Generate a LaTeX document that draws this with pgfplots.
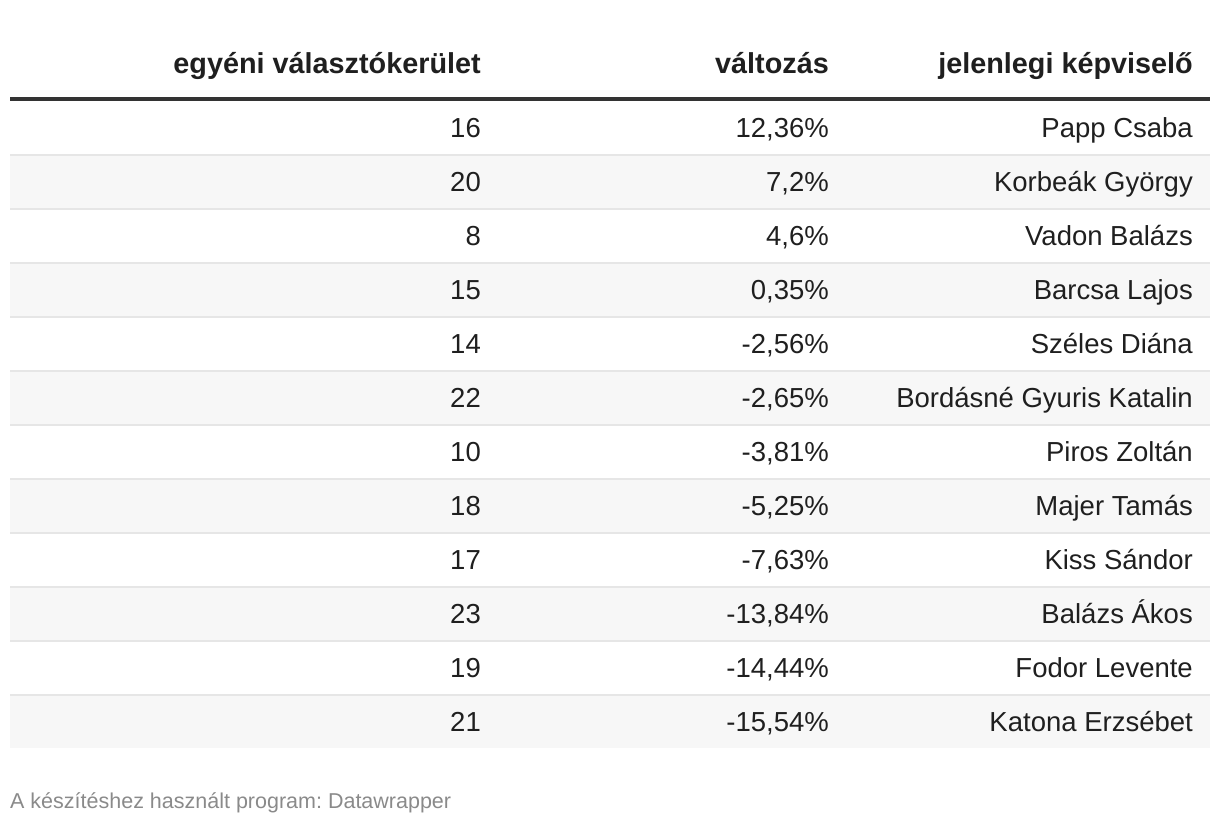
\documentclass[border=0pt]{standalone}
\usepackage{pgfplots}
\pgfplotsset{compat=1.18}
\usepackage{fontspec}
\setmainfont{Liberation Sans}
\frenchspacing
\definecolor{txt}{HTML}{1F1F1F}
\definecolor{rulec}{HTML}{333333}
\definecolor{stripe}{HTML}{F7F7F7}
\definecolor{sepc}{HTML}{E6E6E6}
\definecolor{foot}{HTML}{8A8A8A}
\begin{document}
\begin{tikzpicture}
\begin{axis}[
  scale only axis, width=1220pt, height=824pt,
  xmin=0, xmax=1220, ymin=0, ymax=824, y dir=reverse,
  axis lines=none, clip=false,
  every node near coord/.style={anchor=base east, inner sep=0pt, text=txt, font=\fontsize{27.5}{33}\selectfont},
]
% frame (invisible)
\addplot[draw=none] coordinates {(0,0) (1220,824)};
% stripes
\addplot[fill=stripe, draw=none] coordinates {(10,154.7) (1210,154.7) (1210,208.7) (10,208.7)} -- cycle;
\addplot[fill=stripe, draw=none] coordinates {(10,262.7) (1210,262.7) (1210,316.7) (10,316.7)} -- cycle;
\addplot[fill=stripe, draw=none] coordinates {(10,370.7) (1210,370.7) (1210,424.7) (10,424.7)} -- cycle;
\addplot[fill=stripe, draw=none] coordinates {(10,478.7) (1210,478.7) (1210,532.7) (10,532.7)} -- cycle;
\addplot[fill=stripe, draw=none] coordinates {(10,586.7) (1210,586.7) (1210,640.7) (10,640.7)} -- cycle;
\addplot[fill=stripe, draw=none] coordinates {(10,694.7) (1210,694.7) (1210,748) (10,748)} -- cycle;
% separators
\addplot[sepc, line width=2pt, unbounded coords=jump] coordinates {
(10,154.7) (1210,154.7) (nan,nan)
(10,208.7) (1210,208.7) (nan,nan)
(10,262.7) (1210,262.7) (nan,nan)
(10,316.7) (1210,316.7) (nan,nan)
(10,370.7) (1210,370.7) (nan,nan)
(10,424.7) (1210,424.7) (nan,nan)
(10,478.7) (1210,478.7) (nan,nan)
(10,532.7) (1210,532.7) (nan,nan)
(10,586.7) (1210,586.7) (nan,nan)
(10,640.7) (1210,640.7) (nan,nan)
(10,694.7) (1210,694.7)
};
% header rule
\addplot[rulec, line width=4pt] coordinates {(10,99) (1210,99)};
% header
\addplot[only marks, mark=none, nodes near coords, point meta=explicit symbolic,
  every node near coord/.style={anchor=base east, inner sep=0pt, text=txt, font=\bfseries\fontsize{28.8}{34}\selectfont}]
  table[meta=t, row sep=\\, col sep=semicolon] {
x;y;t\\
481;73.5;egyéni választókerület\\
829;73.5;változás\\
1193;73.5;jelenlegi képviselő\\
};
% column 1
\addplot[only marks, mark=none, nodes near coords, point meta=explicit symbolic]
  table[meta=t, row sep=\\, col sep=semicolon] {
x;y;t\\
481;137.7;16\\
481;191.7;20\\
481;245.7;8\\
481;299.7;15\\
481;353.7;14\\
481;407.7;22\\
481;461.7;10\\
481;515.7;18\\
481;569.7;17\\
481;623.7;23\\
481;677.7;19\\
481;731.7;21\\
};
% column 2
\addplot[only marks, mark=none, nodes near coords, point meta=explicit symbolic]
  table[meta=t, row sep=\\, col sep=semicolon] {
x;y;t\\
829;137.7;12,36\%\\
829;191.7;7,2\%\\
829;245.7;4,6\%\\
829;299.7;0,35\%\\
829;353.7;-2,56\%\\
829;407.7;-2,65\%\\
829;461.7;-3,81\%\\
829;515.7;-5,25\%\\
829;569.7;-7,63\%\\
829;623.7;-13,84\%\\
829;677.7;-14,44\%\\
829;731.7;-15,54\%\\
};
% column 3
\addplot[only marks, mark=none, nodes near coords, point meta=explicit symbolic]
  table[meta=t, row sep=\\, col sep=semicolon] {
x;y;t\\
1193;137.7;Papp Csaba\\
1193;191.7;Korbeák György\\
1193;245.7;Vadon Balázs\\
1193;299.7;Barcsa Lajos\\
1193;353.7;Széles Diána\\
1193;407.7;Bordásné Gyuris Katalin\\
1193;461.7;Piros Zoltán\\
1193;515.7;Majer Tamás\\
1193;569.7;Kiss Sándor\\
1193;623.7;Balázs Ákos\\
1193;677.7;Fodor Levente\\
1193;731.7;Katona Erzsébet\\
};
% footer
\addplot[only marks, mark=none, nodes near coords, point meta=explicit symbolic,
  every node near coord/.style={anchor=base west, inner sep=0pt, text=foot, font=\fontsize{21.5}{26}\selectfont}]
  table[meta=t, row sep=\\, col sep=semicolon] {
x;y;t\\
10;808;A készítéshez használt program: Datawrapper\\
};
\end{axis}
\end{tikzpicture}
\end{document}
